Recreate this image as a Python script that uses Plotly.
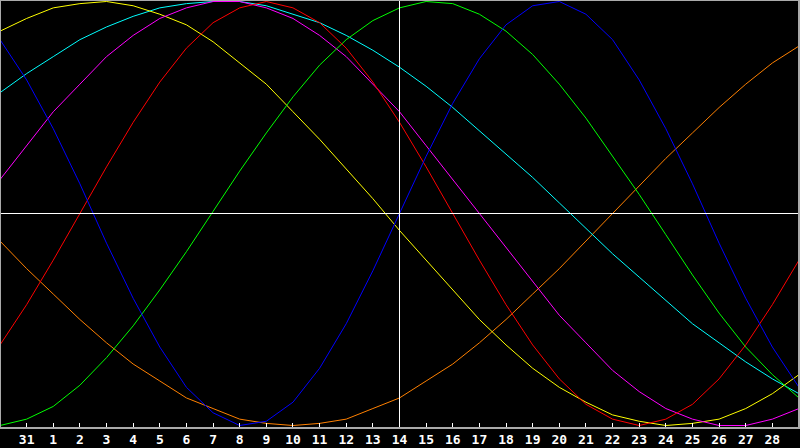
import plotly.graph_objects as go

# days shown: 30 (prev month) .. 29, today is the 14th
day_pos = list(range(-1, 30))
tick_pos = list(range(0, 29))
tick_labels = ["31"] + [str(d) for d in range(1, 29)]
today = 14

# cycle values in percent, one per day
physical = [82, 63, 40, 14, -14, -40, -63, -82, -94, -100, -98, -89, -73, -52, -27, 0,
            27, 52, 73, 89, 98, 100, 94, 82, 63, 40, 14, -14, -40, -63, -82]
emotional = [-62, -43, -22, 0, 22, 43, 62, 78, 90, 97, 100, 97, 90, 78, 62, 43,
             22, 0, -22, -43, -62, -78, -90, -97, -100, -97, -90, -78, -62, -43, -22]
intellectual = [-100, -97, -91, -81, -68, -53, -36, -18, 1, 20, 38, 55, 70, 82, 91, 97,
                100, 99, 94, 86, 75, 61, 45, 27, 9, -10, -29, -47, -63, -76, -87]
intuitive = [16, 32, 48, 61, 74, 84, 92, 97, 100, 100, 97, 92, 84, 74, 61, 48,
             32, 16, 0, -16, -32, -48, -61, -74, -84, -92, -97, -100, -100, -97, -92]
aesthetic = [86, 92, 97, 99, 100, 98, 94, 89, 81, 71, 61, 48, 35, 21, 7, -8,
             -22, -36, -50, -62, -73, -82, -89, -95, -98, -100, -99, -97, -92, -85, -76]
awareness = [-13, -26, -38, -50, -61, -71, -79, -87, -92, -97, -99, -100, -99, -97, -92, -87,
             -79, -71, -61, -50, -38, -26, -13, 0, 13, 26, 38, 50, 61, 71, 79]
spiritual = [57, 66, 74, 82, 88, 93, 97, 99, 100, 100, 98, 94, 90, 84, 77, 69,
             60, 50, 39, 28, 17, 5, -7, -19, -30, -41, -52, -61, -70, -78, -85]

series = [
    ("Awareness", awareness, "#ff8000"),
    ("Spiritual", spiritual, "#00ffff"),
    ("Aesthetic", aesthetic, "#ffff00"),
    ("Intuitive", intuitive, "#ff00ff"),
    ("Intellectual", intellectual, "#00ff00"),
    ("Emotional", emotional, "#ff0000"),
    ("Physical", physical, "#0000ff"),
]

fig = go.Figure()

for name, values, color in series:
    fig.add_trace(go.Scatter(x=day_pos, y=values, mode="lines", name=name,
                             line=dict(color=color, width=1), hoverinfo="skip"))

# zero line and today marker
fig.add_shape(type="line", xref="paper", yref="y", x0=0, x1=1, y0=0, y1=0,
              line=dict(color="white", width=1))
fig.add_shape(type="line", xref="x", yref="paper", x0=today, x1=today, y0=0, y1=1,
              line=dict(color="white", width=1))
# grey frame
fig.add_shape(type="rect", xref="paper", yref="paper", x0=0, x1=1, y0=0, y1=1,
              line=dict(color="#aaaaaa", width=2))

fig.update_xaxes(range=[-1, 29], tickvals=tick_pos, ticktext=tick_labels,
                 ticks="inside", ticklen=5, tickcolor="white", tickwidth=1,
                 showgrid=False, zeroline=False, showline=False, ticklabelstandoff=2,
                 tickfont=dict(family="DejaVu Sans Mono", size=13, color="white", weight="bold"))
fig.update_yaxes(range=[-101.18, 100.71], showticklabels=False, showgrid=False,
                 zeroline=False, showline=False)

fig.update_layout(width=800, height=448, showlegend=False,
                  margin=dict(l=0, r=1, t=0, b=20),
                  paper_bgcolor="black", plot_bgcolor="black")

fig.write_html("out.html", config={"displayModeBar": False},
               post_script="document.body.style.margin='0';"
                           "document.body.style.background='black';")
